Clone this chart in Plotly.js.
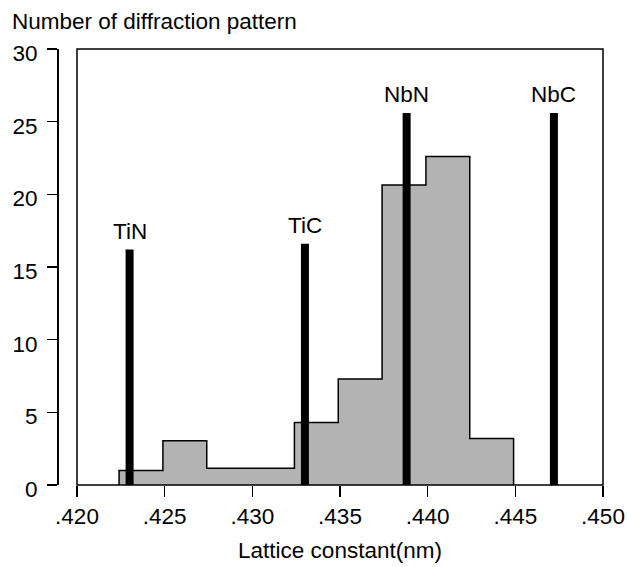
<!DOCTYPE html>
<html>
<head>
<meta charset="utf-8">
<script src="https://cdn.plot.ly/plotly-3.0.1.min.js"></script>
<style>html,body{margin:0;padding:0;background:#fff;}</style>
</head>
<body>
<div id="chart" style="width:627px;height:567px;"></div>
<script>
// Histogram bins (lattice constant, nm) and counts
var binEdges = [0.4224, 0.4249, 0.4274, 0.4299, 0.4324, 0.4349, 0.4374, 0.4399, 0.4424, 0.4449];
var binCounts = [1.0, 3.05, 1.15, 1.15, 4.3, 7.3, 20.65, 22.6, 3.2];

// Reference compounds
var refNames = ["TiN", "TiC", "NbN", "NbC"];
var refLattice = [0.4230, 0.4330, 0.4388, 0.4472];
var refHeights = [16.2, 16.6, 25.6, 25.6];

// Axis ticks
var xTickVals = [0.420, 0.425, 0.430, 0.435, 0.440, 0.445, 0.450];
var xTickText = [".420", ".425", ".430", ".435", ".440", ".445", ".450"];
var yTickVals = [0, 5, 10, 15, 20, 25, 30];

var FONT = "Liberation Sans, Arial, Helvetica, sans-serif";
var FS = 22.5;

// step outline of histogram
var hx = [binEdges[0]], hy = [0];
for (var i = 0; i < binCounts.length; i++) { hx.push(binEdges[i]); hy.push(binCounts[i]); }
hx.push(binEdges[binEdges.length - 1]); hy.push(binCounts[binCounts.length - 1]);
hx.push(binEdges[binEdges.length - 1]); hy.push(0);

var traces = [{
  type: "scatter", mode: "lines", x: hx, y: hy,
  line: {shape: "hv", color: "#000", width: 1.5},
  fill: "tozeroy", fillcolor: "#b3b3b3",
  hoverinfo: "skip", showlegend: false
}];

var annotations = [];
for (var j = 0; j < refNames.length; j++) {
  traces.push({
    type: "scatter", mode: "lines",
    x: [refLattice[j], refLattice[j]], y: [0, refHeights[j]],
    line: {color: "#000", width: 8},
    showlegend: false, hoverinfo: "skip"
  });
  annotations.push({
    x: refLattice[j], y: refHeights[j], xref: "x", yref: "y",
    text: refNames[j], showarrow: false, yanchor: "bottom", yshift: 4,
    font: {family: FONT, size: FS, color: "#000"}
  });
}

var layout = {
  width: 627, height: 567,
  margin: {l: 57, r: 24, t: 49, b: 82},
  paper_bgcolor: "#fff", plot_bgcolor: "#fff",
  font: {family: FONT, size: FS, color: "#000"},
  showlegend: false,
  title: {
    text: "Number of diffraction pattern",
    x: 12 / 627, xanchor: "left", xref: "container",
    y: 1 - 21 / 567, yanchor: "middle", yref: "container",
    font: {family: FONT, size: FS, color: "#000"}
  },
  xaxis: {
    domain: [20 / 546, 1],
    range: [0.420, 0.450],
    tickmode: "array", tickvals: xTickVals, ticktext: xTickText,
    ticks: "outside", ticklen: 11, tickwidth: 1.5, tickcolor: "#000",
    showline: false, showgrid: false, zeroline: false,
    title: {text: "Lattice constant(nm)", standoff: 14, font: {family: FONT, size: FS}}
  },
  yaxis: {
    range: [0, 30],
    anchor: "free", position: 0,
    tickmode: "array", tickvals: yTickVals,
    ticks: "outside", ticklen: 10, tickwidth: 1.5, tickcolor: "#000",
    ticklabelstandoff: 5, ticklabelshift: 4,
    showline: true, linecolor: "#000", linewidth: 1.5,
    showgrid: false, zeroline: false
  },
  shapes: [{
    type: "rect", xref: "x domain", yref: "y domain",
    x0: 0, x1: 1, y0: 0, y1: 1,
    line: {color: "#000", width: 1.5}, layer: "above"
  }],
  annotations: annotations
};

Plotly.newPlot("chart", traces, layout, {displayModeBar: false, staticPlot: true});
</script>
</body>
</html>
